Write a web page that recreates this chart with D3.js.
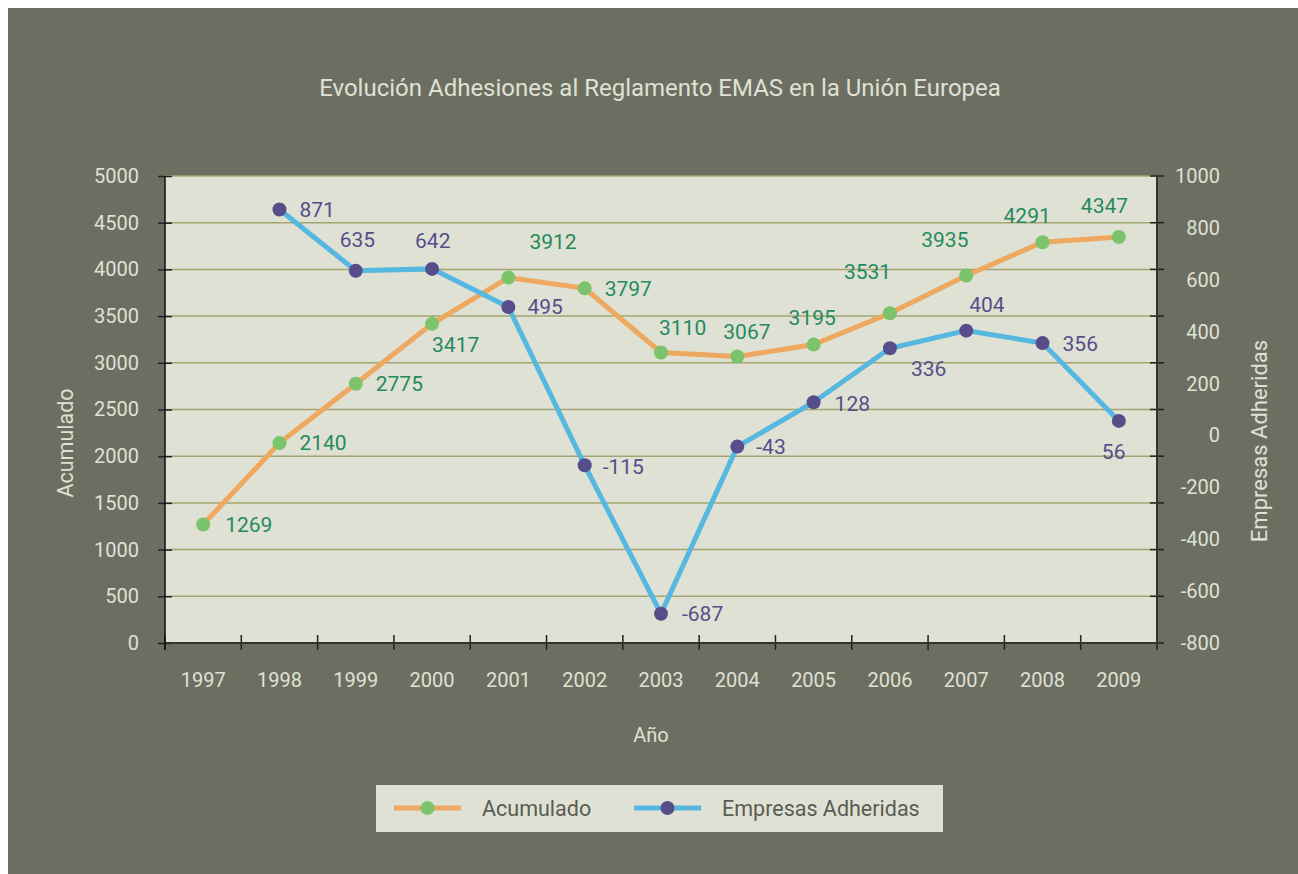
<!DOCTYPE html>
<html>
<head>
<meta charset="UTF-8" />
<title>Evolución Adhesiones EMAS</title>
<style>
  body { margin: 0; background: #fff; }
  text { font-family: Roboto, "DejaVu Sans", sans-serif; }
</style>
</head>
<body>
<script src="https://d3js.org/d3.v7.min.js"></script>
<script>
// data
var years = ["1997", "1998", "1999", "2000", "2001", "2002", "2003", "2004", "2005", "2006", "2007", "2008", "2009"];
var acumulado = [1269, 2140, 2775, 3417, 3912, 3797, 3110, 3067, 3195, 3531, 3935, 4291, 4347];
var empresasYears = ["1998", "1999", "2000", "2001", "2002", "2003", "2004", "2005", "2006", "2007", "2008", "2009"];
var empresas = [871, 635, 642, 495, -115, -687, -43, 128, 336, 404, 356, 56];
var leftTicks = [0, 500, 1000, 1500, 2000, 2500, 3000, 3500, 4000, 4500, 5000];
var rightTicks = [-800, -600, -400, -200, 0, 200, 400, 600, 800, 1000];

// label nudges from each point (left edge dx, centre dy)
var acumNudge = [[22, 0], [20, 0], [20, 0], [0, 21], [21, -36], [20, 0], [-2, -25], [-14, -25], [-25, -27], [-46, -42], [-45, -36], [-39, -27], [-38, -31]];
var empNudge = [[20, 0], [-16, -31], [-17, -28], [19, 0], [18, 1], [21, 0], [19, 0], [21, 1], [21, 20], [3, -26], [20, 1], [-17, 31]];

var W = 1298, H = 874;
var bgColor = "#6d6e62", plotColor = "#dfe1d4", gridColor = "#a3a470";
var lightText = "#dfe1d4";
var orange = "#eea85f", green = "#7bc46b", blue = "#56b7e0", purple = "#574d8a";
var greenText = "#258a5c";

var svg = d3.select("body").append("svg")
    .attr("width", W)
    .attr("height", H);

svg.append("rect")
    .attr("x", 8).attr("y", 8)
    .attr("width", W - 8).attr("height", H - 8)
    .attr("fill", bgColor);

var plot = { left: 165, right: 1157, top: 176, bottom: 643 };

var x = d3.scaleBand().domain(years).range([plot.left, plot.right]);
var yL = d3.scaleLinear().domain([0, 5000]).range([plot.bottom, plot.top]);
var yR = d3.scaleLinear().domain([-800, 1000]).range([plot.bottom, plot.top]);

function cx(yr) { return x(yr) + x.bandwidth() / 2; }

svg.append("rect")
    .attr("x", plot.left).attr("y", plot.top)
    .attr("width", plot.right - plot.left)
    .attr("height", plot.bottom - plot.top)
    .attr("fill", plotColor);

// gridlines
svg.append("g").selectAll("line")
    .data(leftTicks.slice(1))
    .join("line")
    .attr("x1", plot.left).attr("x2", plot.right)
    .attr("y1", function(d) { return yL(d); })
    .attr("y2", function(d) { return yL(d); })
    .attr("stroke", gridColor)
    .attr("stroke-width", 1.5);

// left axis
var leftAxis = svg.append("g")
    .attr("transform", "translate(" + plot.left + ",0)")
    .call(d3.axisLeft(yL).tickValues(leftTicks).tickFormat(d3.format("d")).tickSize(7).tickPadding(19));
leftAxis.select(".domain").remove();
leftAxis.selectAll(".tick line").attr("x2", 7).attr("x1", -7).attr("stroke", "#222").attr("stroke-width", 1.5);
leftAxis.selectAll(".tick text").attr("font-size", 20).attr("fill", lightText);

// right axis: tick marks on the gridlines, labels on its own scale
svg.append("g").selectAll("line")
    .data(leftTicks)
    .join("line")
    .attr("x1", plot.right - 7).attr("x2", plot.right + 7)
    .attr("y1", function(d) { return yL(d); })
    .attr("y2", function(d) { return yL(d); })
    .attr("stroke", "#222").attr("stroke-width", 1.5);

svg.append("g").selectAll("text")
    .data(rightTicks)
    .join("text")
    .attr("x", 1220)
    .attr("y", function(d) { return yR(d); })
    .attr("dy", "0.35em")
    .attr("text-anchor", "end")
    .attr("font-size", 20)
    .attr("fill", lightText)
    .text(function(d) { return d; });

// x axis
var bottomAxis = svg.append("g")
    .attr("transform", "translate(0," + plot.bottom + ")")
    .call(d3.axisBottom(x).tickSize(0).tickPadding(30));
bottomAxis.select(".domain").remove();
bottomAxis.selectAll(".tick text").attr("font-size", 20).attr("fill", lightText);

var bounds = years.map(function(d) { return x(d); }).concat([plot.right]);
svg.append("g").selectAll("line")
    .data(bounds)
    .join("line")
    .attr("x1", function(d) { return d; })
    .attr("x2", function(d) { return d; })
    .attr("y1", plot.bottom - 8).attr("y2", plot.bottom + 7)
    .attr("stroke", "#222").attr("stroke-width", 1.5);

// axis lines
svg.append("line")
    .attr("x1", plot.left).attr("x2", plot.right)
    .attr("y1", plot.bottom).attr("y2", plot.bottom)
    .attr("stroke", "#333").attr("stroke-width", 2);
svg.append("line")
    .attr("x1", plot.left).attr("x2", plot.left)
    .attr("y1", plot.top).attr("y2", plot.bottom + 7)
    .attr("stroke", "#111").attr("stroke-width", 1.5);
svg.append("line")
    .attr("x1", plot.right).attr("x2", plot.right)
    .attr("y1", plot.top).attr("y2", plot.bottom + 7)
    .attr("stroke", "#333").attr("stroke-width", 2);

// series
var acumPts = years.map(function(d, i) { return [cx(d), yL(acumulado[i]), acumulado[i], acumNudge[i]]; });
var empPts = empresasYears.map(function(d, i) { return [cx(d), yR(empresas[i]), empresas[i], empNudge[i]]; });

var line = d3.line().x(function(d) { return d[0]; }).y(function(d) { return d[1]; });

svg.append("path").attr("d", line(acumPts))
    .attr("fill", "none").attr("stroke", orange).attr("stroke-width", 5);
svg.append("path").attr("d", line(empPts))
    .attr("fill", "none").attr("stroke", blue).attr("stroke-width", 5);

svg.append("g").selectAll("circle").data(acumPts).join("circle")
    .attr("cx", function(d) { return d[0]; })
    .attr("cy", function(d) { return d[1]; })
    .attr("r", 7).attr("fill", green);
svg.append("g").selectAll("circle").data(empPts).join("circle")
    .attr("cx", function(d) { return d[0]; })
    .attr("cy", function(d) { return d[1]; })
    .attr("r", 7).attr("fill", purple);

function addLabels(pts, color) {
    svg.append("g").selectAll("text").data(pts).join("text")
        .attr("x", function(d) { return d[0] + d[3][0]; })
        .attr("y", function(d) { return d[1] + d[3][1]; })
        .attr("dy", "0.35em")
        .attr("font-size", 21)
        .attr("fill", color)
        .text(function(d) { return d[2]; });
}
addLabels(acumPts, greenText);
addLabels(empPts, purple);

// titles
svg.append("text")
    .attr("x", 660).attr("y", 96)
    .attr("text-anchor", "middle")
    .attr("font-size", 24)
    .attr("fill", lightText)
    .text("Evolución Adhesiones al Reglamento EMAS en la Unión Europea");

svg.append("text")
    .attr("x", 651).attr("y", 742)
    .attr("text-anchor", "middle")
    .attr("font-size", 20)
    .attr("fill", lightText)
    .text("Año");

svg.append("text")
    .attr("transform", "translate(73,443) rotate(-90)")
    .attr("text-anchor", "middle")
    .attr("font-size", 21.5)
    .attr("fill", lightText)
    .text("Acumulado");

svg.append("text")
    .attr("transform", "translate(1267,441) rotate(-90)")
    .attr("text-anchor", "middle")
    .attr("font-size", 22)
    .attr("fill", lightText)
    .text("Empresas Adheridas");

// legend
var legend = svg.append("g");
legend.append("rect")
    .attr("x", 376).attr("y", 785)
    .attr("width", 567).attr("height", 47)
    .attr("fill", plotColor);

var legendItems = [
    { name: "Acumulado", line: orange, dot: green, x: 394 },
    { name: "Empresas Adheridas", line: blue, dot: purple, x: 634 }
];
var li = legend.selectAll("g.item").data(legendItems).join("g")
    .attr("class", "item")
    .attr("transform", function(d) { return "translate(" + d.x + ",808)"; });
li.append("line")
    .attr("x1", 0).attr("x2", 67)
    .attr("stroke", function(d) { return d.line; })
    .attr("stroke-width", 5);
li.append("circle")
    .attr("cx", 33.5).attr("r", 7)
    .attr("fill", function(d) { return d.dot; });
li.append("text")
    .attr("x", 88).attr("dy", "0.35em")
    .attr("font-size", 21.5)
    .attr("fill", "#5b5c53")
    .text(function(d) { return d.name; });
</script>
</body>
</html>
